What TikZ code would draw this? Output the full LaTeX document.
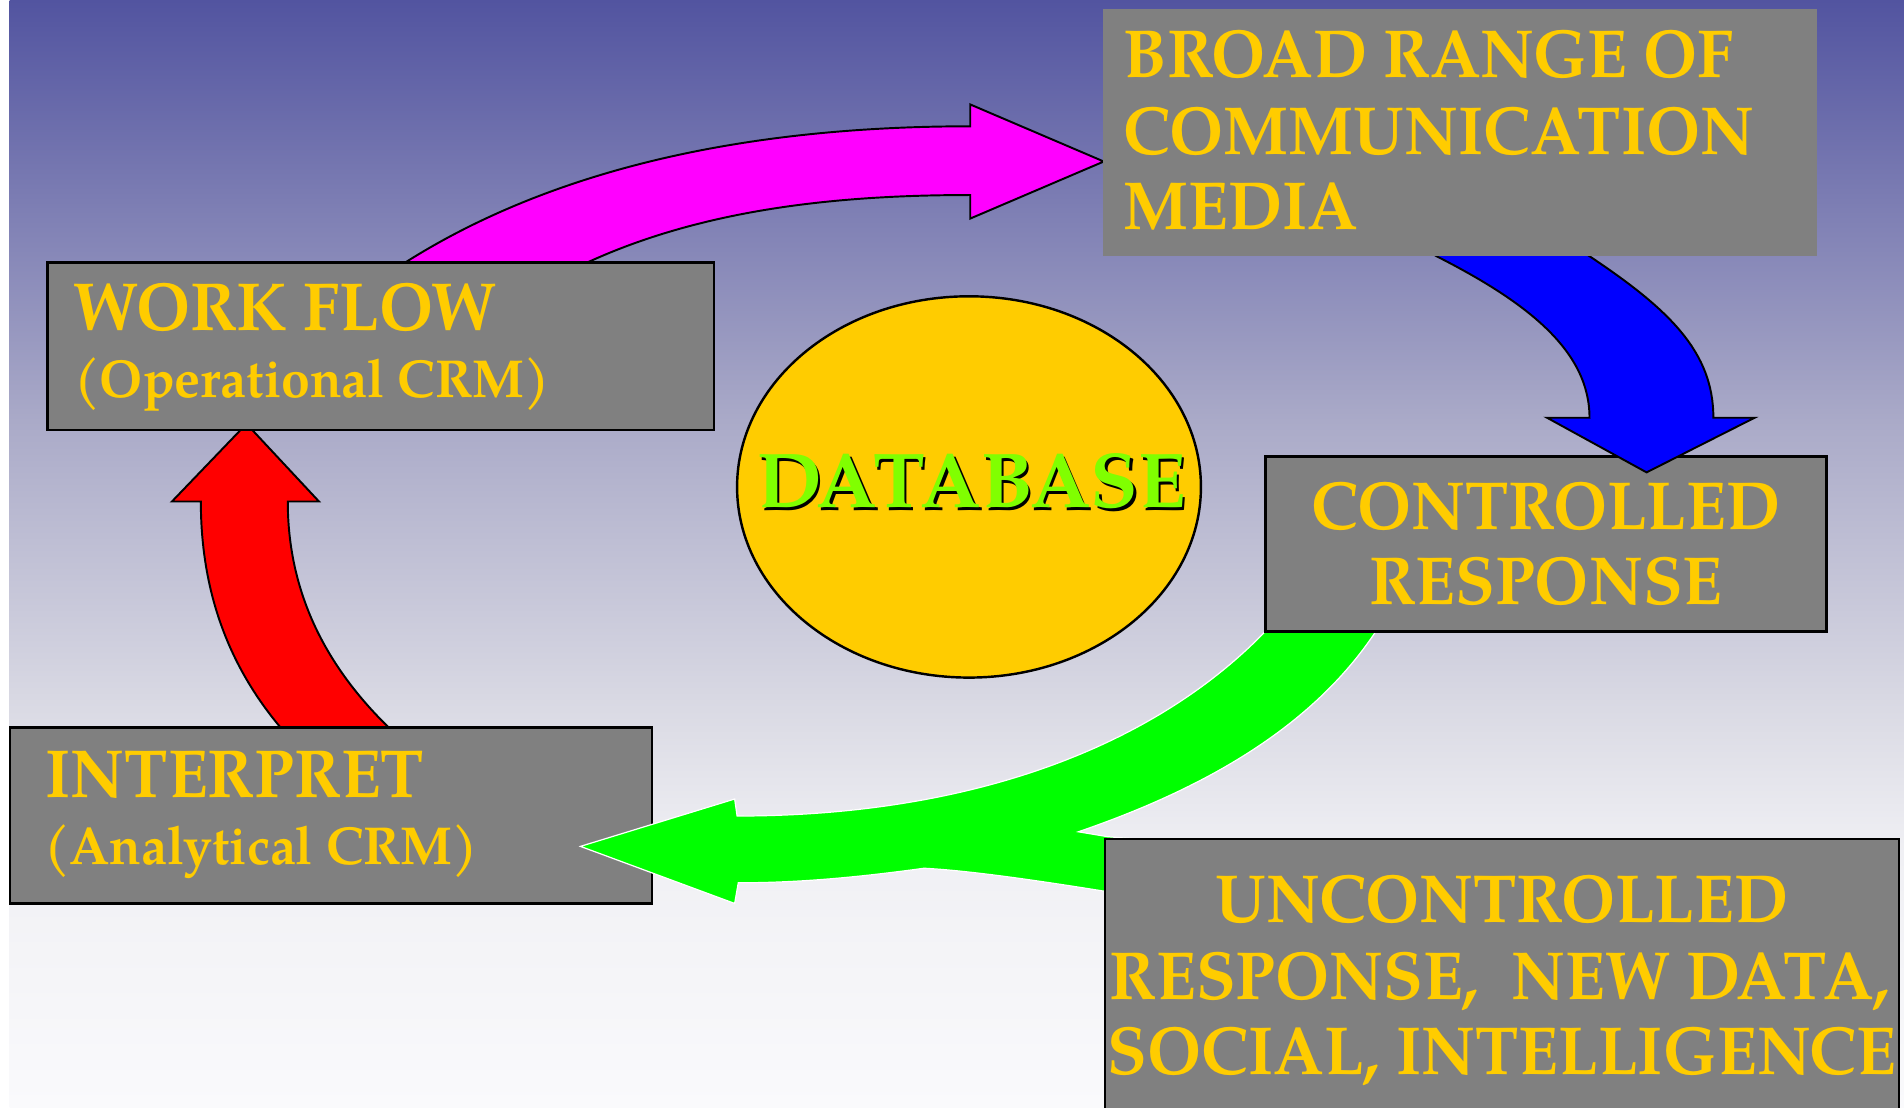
\documentclass[tikz,border=0pt]{standalone}
\usepackage{fontspec}
\setmainfont{TeX Gyre Pagella}
\newfontfamily\headfont{TeX Gyre Pagella}[FakeStretch=0.955]
\newfontfamily\subfont{TeX Gyre Pagella}[FakeStretch=0.97]
\usetikzlibrary{shapes.geometric}

\definecolor{bgtop}{RGB}{82,84,160}
\definecolor{bgupper}{RGB}{170,170,200}
\definecolor{bgmid}{RGB}{192,192,213}
\definecolor{bglower}{RGB}{218,218,228}
\definecolor{bglight}{RGB}{240,240,244}
\definecolor{bgbot}{RGB}{250,250,252}
\definecolor{boxgray}{RGB}{128,128,128}
\definecolor{gold}{RGB}{255,204,0}
\definecolor{dbgreen}{RGB}{128,255,0}
\definecolor{flowgreen}{RGB}{0,255,0}
\definecolor{flowmagenta}{RGB}{255,0,255}
\definecolor{flowblue}{RGB}{0,0,255}
\definecolor{flowred}{RGB}{255,0,0}

% sky-like backdrop: deep blue at the top fading to near white
\pgfdeclareverticalshading{backdrop}{100bp}{%
  color(0bp)=(bgbot); color(25bp)=(bgbot); color(36.5bp)=(bglight);
  color(43bp)=(bglower); color(50bp)=(bgmid); color(56bp)=(bgupper);
  color(75bp)=(bgtop); color(100bp)=(bgtop)}

\tikzset{
  panel/.style={rectangle, fill=boxgray, draw=black, line width=1pt, inner sep=0pt},
  plainpanel/.style={rectangle, fill=boxgray, inner sep=0pt},
  headtext/.style={text=gold, font=\headfont\fontsize{28}{32}\selectfont\bfseries, inner sep=0pt},
  subtext/.style={text=gold, font=\subfont\fontsize{22}{26}\selectfont\bfseries, inner sep=0pt},
  dbtext/.style={font=\fontsize{32}{36}\selectfont\bfseries, inner sep=0pt, anchor=base},
  bigarrow/.style={draw=black, line width=0.8pt, line join=miter},
  softarrow/.style={draw=white, line width=0.5pt, fill=flowgreen, line join=miter},
}

\begin{document}
\begin{tikzpicture}[x=0.5pt,y=-0.5pt]
\useasboundingbox (0,0) rectangle (1568,912);
\clip (0,0) rectangle (1568,912);
\fill[white] (0,0) rectangle (1568,912);
\shade[shading=backdrop] (8,0) rectangle (1568,912);

% red arrow: interpret -> work flow
\path[bigarrow, fill=flowred]
  (237,608) -- (230.6,598.6)
  .. controls (190,550) and (165.4,490) .. (165.4,413)
  -- (141.6,413) -- (203,349) -- (262.7,413) -- (237,413)
  .. controls (237,490) and (270,550) .. (319.6,598.6)
  -- (328,608) -- cycle;

% magenta arrow: work flow -> communication media
\path[bigarrow, fill=flowmagenta]
  (322,224) -- (334,216)
  .. controls (470,130) and (640,104) .. (799,104)
  -- (799,86) -- (909,133) -- (799,180) -- (799,160.6)
  .. controls (690,160.6) and (580,172) .. (484,216)
  -- (468,224) -- cycle;

% boxes on the left
\node[panel, minimum width=274.5pt, minimum height=69pt] (work) at (313.5,285) {};
\node[headtext, anchor=base west] (worktitle) at (60,272) {WORK FLOW};
\node[subtext, anchor=base west] (worksub) at (61,327) {(Operational CRM)};

\node[panel, minimum width=264.5pt, minimum height=72.5pt] (interp) at (272.5,671.5) {};
\node[headtext, anchor=base west] (interptitle) at (37,657) {INTERPRET};
\node[subtext, anchor=base west] (interpsub) at (36,712) {(Analytical CRM)};

% green arrow: both responses -> interpret
\path[softarrow]
  (478,697) -- (605,658) -- (607,672)
  .. controls (800,672) and (950,615) .. (1042,520)
  -- (1052,508) -- (1145,508) -- (1133,520)
  .. controls (1080,600) and (990,650) .. (888,685)
  -- (912,689) -- (950,692) -- (950,738) -- (910,734)
  .. controls (860,726) and (800,717) .. (761,715)
  .. controls (710,722) and (660,727) .. (608,727)
  -- (605,744) -- cycle;

% boxes on the right
\node[panel, minimum width=231pt, minimum height=72pt] (ctrl) at (1273,448) {};
\node[headtext, anchor=base] (ctrlone) at (1273,436) {CONTROLLED};
\node[headtext, anchor=base] (ctrltwo) at (1273,498) {RESPONSE};

\node[panel, minimum width=327pt, minimum height=112pt] (unctrl) at (1237,803) {};
\node[headtext, anchor=base] (unctrlone) at (1237,760) {UNCONTROLLED};
\node[headtext, anchor=base] (unctrltwo) at (1235,823) {RESPONSE,\ \ NEW DATA,};
\node[headtext, anchor=base] (unctrlthree) at (1237,885) {SOCIAL, INTELLIGENCE};

% blue arrow: communication media -> controlled response
\path[bigarrow, fill=flowblue]
  (1170,203) -- (1183,211)
  .. controls (1260,250) and (1309,290) .. (1309,344)
  -- (1274,344) -- (1356,389) -- (1445,344) -- (1411,344)
  .. controls (1411,290) and (1375,255) .. (1309,211)
  -- (1297,203) -- cycle;

\node[plainpanel, minimum width=294pt, minimum height=102pt] (media) at (1202,109) {};
\node[headtext, anchor=base west] (mediaone) at (925,64) {BROAD RANGE OF};
\node[headtext, anchor=base west] (mediatwo) at (925,127) {COMMUNICATION};
\node[headtext, anchor=base west] (mediathree) at (925,189) {MEDIA};

% central database
\node[ellipse, draw=black, line width=1pt, fill=gold, minimum width=191pt, minimum height=157pt, inner sep=0pt] (db) at (798,401) {};
\node[dbtext, text=black] (dbshadow) at (802,420) {DATABASE};
\node[dbtext, text=dbgreen] (dbword) at (800,418) {DATABASE};
\end{tikzpicture}
\end{document}
